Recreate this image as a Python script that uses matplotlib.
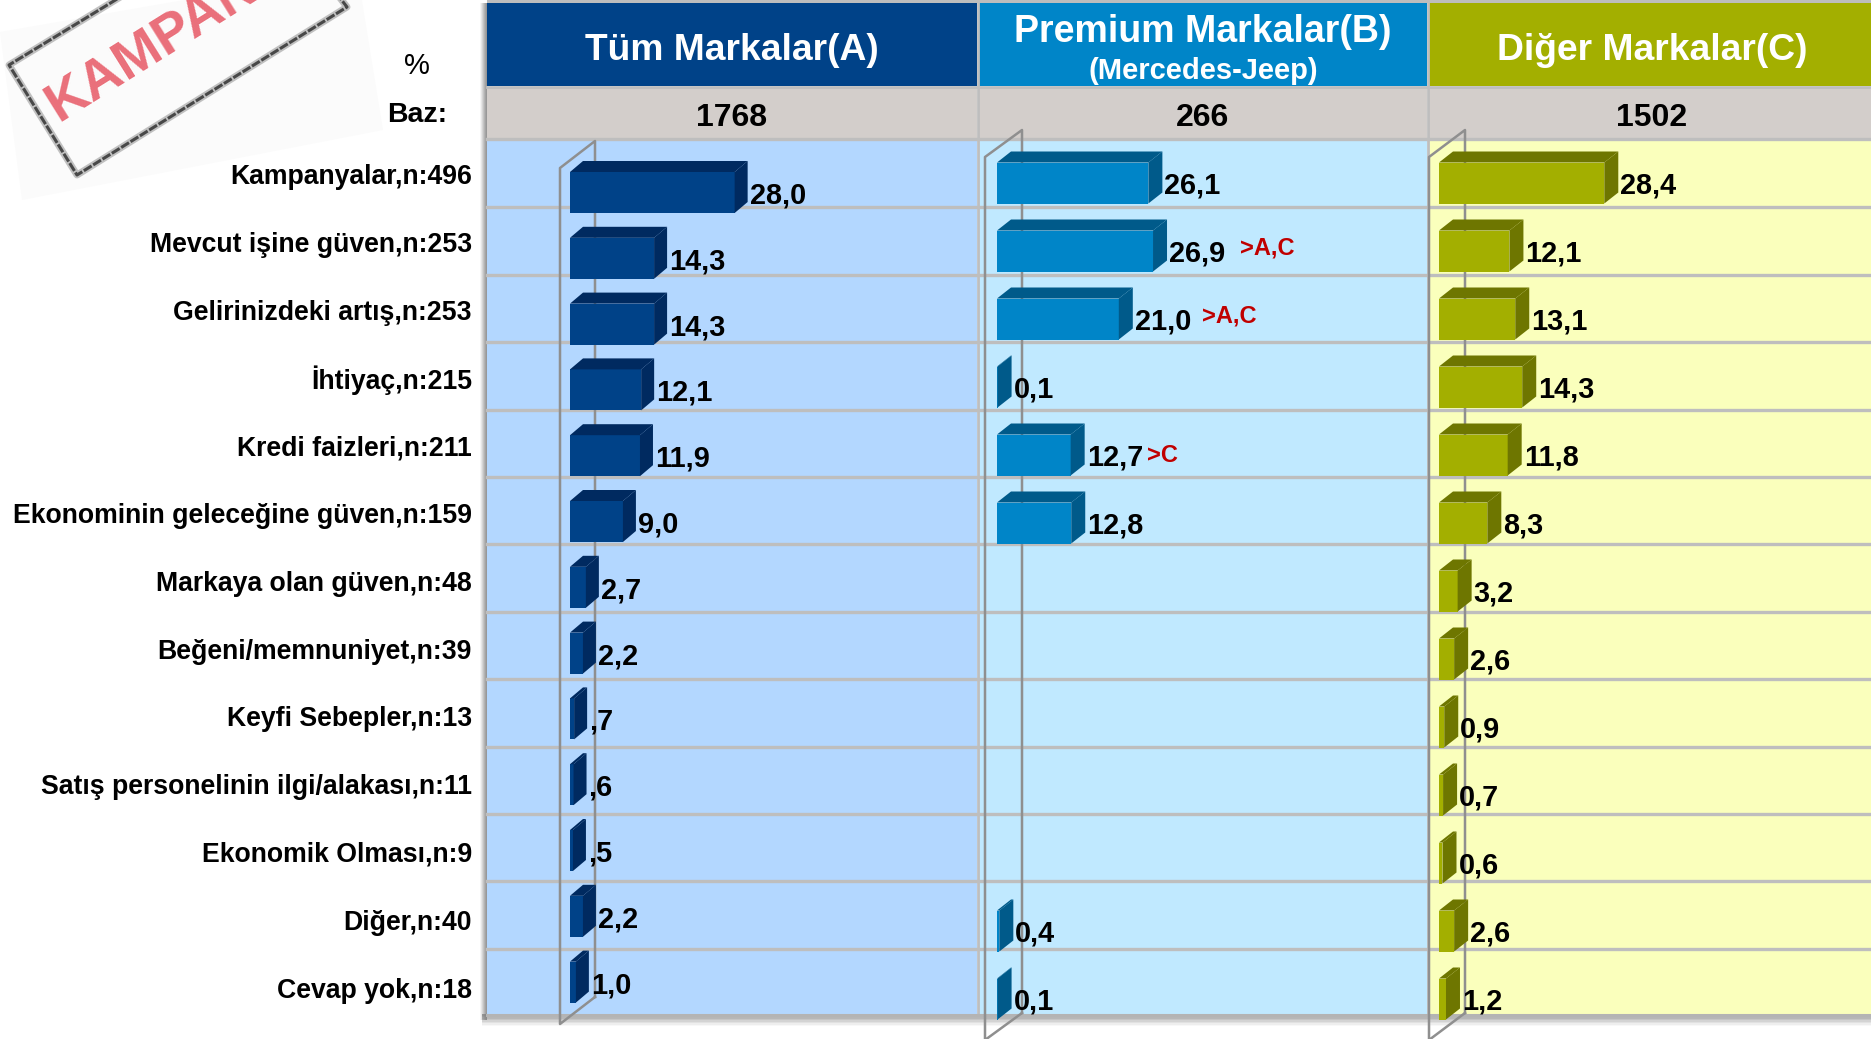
import numpy as np
import matplotlib
matplotlib.use("Agg")
import matplotlib.pyplot as plt

plt.rcParams['font.family'] = ['Liberation Sans', 'DejaVu Sans']
plt.rcParams['font.weight'] = 'bold'

# data
categories = ["Kampanyalar,n:496", "Mevcut işine güven,n:253", "Gelirinizdeki artış,n:253",
              "İhtiyaç,n:215", "Kredi faizleri,n:211", "Ekonominin geleceğine güven,n:159",
              "Markaya olan güven,n:48", "Beğeni/memnuniyet,n:39", "Keyfi Sebepler,n:13",
              "Satış personelinin ilgi/alakası,n:11", "Ekonomik Olması,n:9", "Diğer,n:40", "Cevap yok,n:18"]
nan = float('nan')
tum = [28.0, 14.3, 14.3, 12.1, 11.9, 9.0, 2.7, 2.2, 0.7, 0.6, 0.5, 2.2, 1.0]
premium = [26.1, 26.9, 21.0, 0.1, 12.7, 12.8, nan, nan, nan, nan, nan, 0.4, 0.1]
diger = [28.4, 12.1, 13.1, 14.3, 11.8, 8.3, 3.2, 2.6, 0.9, 0.7, 0.6, 2.6, 1.2]
bases = ["1768", "266", "1502"]
sig_notes = [(">A,C", 1267, 248), (">A,C", 1229, 316), (">C", 1162, 456)]

W, H = 1871, 1039
BODY_TOP, BODY_BOT = 140, 1014
HEAD_TOP, HEAD_BOT = 3, 86
ROW_H = 67.4

# x0,x1 panel edge; bar0 zero line; sx px per unit; y0 first bar centre; pitch; wall x
panels = [
    dict(vals=tum, x0=487, x1=977, bar0=570, sx=5.88, y0=192.5, pitch=65.8, dx=13, dy=11,
         wall=(560, 595, 168, 141, 1024, 997), bg='#B3D7FF', head='#004288',
         front='#004288', dark='#002A60', strip_zero=True),
    dict(vals=premium, x0=979, x1=1427, bar0=997, sx=5.8, y0=183, pitch=68, dx=14, dy=11,
         wall=(985, 1022, 157, 130, 1040, 1013), bg='#C0E9FF', head='#0085C8',
         front='#0085C8', dark='#005A8A', strip_zero=False),
    dict(vals=diger, x0=1429, x1=1871, bar0=1439, sx=5.82, y0=183, pitch=68, dx=14, dy=11,
         wall=(1429, 1465, 157, 130, 1040, 1013), bg='#FAFFBC', head='#A3AF00',
         front='#A3AF00', dark='#6E7600', strip_zero=False),
]

fig = plt.figure(figsize=(W / 100, H / 100), dpi=100, facecolor='white')
base = fig.add_axes([0, 0, 1, 1], zorder=0)
base.set_xlim(0, W)
base.set_ylim(H, 0)
base.axis('off')

# stamp, top left
base.fill([0, 357, 383, 22], [32, -30, 130, 200], color='#FBFBFB', lw=0, zorder=1)
frame_x = [140, 9, 77, 347, 330]
frame_y = [-15, 65, 175, 7, -15]
base.plot(frame_x, frame_y, color='#A8A8A8', lw=5, alpha=0.7, zorder=2)
base.plot(frame_x, frame_y, color='#484848', lw=2.2, ls=(0, (3, 0.6)), zorder=2)
base.text(58, 122, "KAMPANYA", color='#E8606C', fontsize=40, rotation=32,
          rotation_mode='anchor', ha='left', va='baseline', alpha=0.9, zorder=2)

# soft shadow left of and below the table
for k in range(8):
    a = 0.08 + 0.04 * k
    base.fill([480 + k, 487, 487, 480 + k], [3, 3, BODY_BOT + 6, BODY_BOT + 6], color='#808080', alpha=a, lw=0, zorder=1)
    base.fill([482, W, W, 482], [1026 - k * 1.5, 1026 - k * 1.5, BODY_BOT, BODY_BOT], color='#808080', alpha=a * 0.7, lw=0, zorder=1)

base.fill([487, W, W, 487], [0, 0, HEAD_TOP, HEAD_TOP], color='#BDBDBD', lw=0, zorder=3)

for p in panels:
    base.fill([p['x0'], p['x1'], p['x1'], p['x0']], [HEAD_TOP, HEAD_TOP, HEAD_BOT, HEAD_BOT], color=p['head'], lw=0, zorder=3)
    base.fill([p['x0'], p['x1'], p['x1'], p['x0']], [88, 88, BODY_TOP - 2, BODY_TOP - 2], color='#D3CECB', lw=0, zorder=3)
    base.fill([p['x0'], p['x1'], p['x1'], p['x0']], [BODY_TOP, BODY_TOP, BODY_BOT, BODY_BOT], color=p['bg'], lw=0, zorder=3)
    for i in range(1, len(categories)):
        base.plot([p['x0'], p['x1']], [BODY_TOP + i * ROW_H] * 2, color='#BEBEBE', lw=2.4, zorder=4)
    # back wall of the 3d plot
    xf, xb, yft, ybt, yfb, ybb = p['wall']
    base.plot([xb, xf, xf, xb, xb, xb], [ybb, yfb, yft, ybt, ybb, ybb], color='#8F8F8F', lw=1.8, zorder=5, clip_on=False)

# separators
for x in [978, 1428]:
    base.plot([x, x], [HEAD_TOP, BODY_BOT], color='#BEBEBE', lw=2, zorder=4)
base.plot([487, W], [87, 87], color='#BEBEBE', lw=2, zorder=4)
base.plot([487, W], [BODY_TOP - 1] * 2, color='#BEBEBE', lw=2.4, zorder=4)
base.plot([487, W], [BODY_BOT + 1] * 2, color='#B4B4B4', lw=2.2, zorder=4)

# bars
for p in panels:
    ax = fig.add_axes([p['x0'] / W, 1 - BODY_BOT / H, (p['x1'] - p['x0']) / W, (BODY_BOT - BODY_TOP) / H], zorder=2)
    ax.set_xlim((p['x0'] - p['bar0']) / p['sx'], (p['x1'] - p['bar0']) / p['sx'])
    ax.set_ylim((BODY_BOT - p['y0']) / p['pitch'], (BODY_TOP - p['y0']) / p['pitch'])
    ax.axis('off')
    ddx = p['dx'] / p['sx']
    ddy = p['dy'] / p['pitch']
    h = 41 / p['pitch']
    ys = np.arange(len(p['vals']))
    bars = ax.barh(ys, p['vals'], height=h, color=p['front'], lw=0, clip_on=False, zorder=3)
    for y, v in zip(ys, p['vals']):
        if np.isnan(v):
            continue
        top = y - h / 2
        bot = y + h / 2
        ax.fill([0, v, v + ddx, ddx], [top, top, top - ddy, top - ddy], color=p['dark'], lw=0, clip_on=False, zorder=3)
        ax.fill([v, v + ddx, v + ddx, v], [top, top - ddy, bot - ddy, bot], color=p['dark'], lw=0, clip_on=False, zorder=3)
        s = f"{v:.1f}".replace('.', ',')
        if p['strip_zero'] and v < 1:
            s = s[1:]
        ax.text(v + ddx + 2 / p['sx'], y + 3 / p['pitch'], s, fontsize=20.8, color='black',
                ha='left', va='center', clip_on=False, zorder=4)

# headers and row labels, on top
top = fig.add_axes([0, 0, 1, 1], zorder=3)
top.set_xlim(0, W)
top.set_ylim(H, 0)
top.axis('off')
top.patch.set_alpha(0)
top.text(732, 50, "Tüm Markalar(A)", color='white', fontsize=26.8, ha='center', va='center')
top.text(1203, 32, "Premium Markalar(B)", color='white', fontsize=27, ha='center', va='center')
top.text(1203, 71, "(Mercedes-Jeep)", color='white', fontsize=21, ha='center', va='center')
top.text(1652, 50, "Diğer Markalar(C)", color='white', fontsize=26.8, ha='center', va='center')
for b, x in zip(bases, [732, 1203, 1652]):
    top.text(x, 118, b, color='black', fontsize=23, ha='center', va='center')
top.text(417, 66, "%", color='black', fontsize=21, fontweight='normal', ha='center', va='center')
top.text(417, 115, "Baz:", color='black', fontsize=20.5, ha='center', va='center')
for i, c in enumerate(categories):
    top.text(472, 177 + i * 67.8, c, color='black', fontsize=19.2, ha='right', va='center')
for s, x, y in sig_notes:
    top.text(x, y, s, color='#C00000', fontsize=17, ha='center', va='center')

fig.savefig('out.png', dpi=100)
